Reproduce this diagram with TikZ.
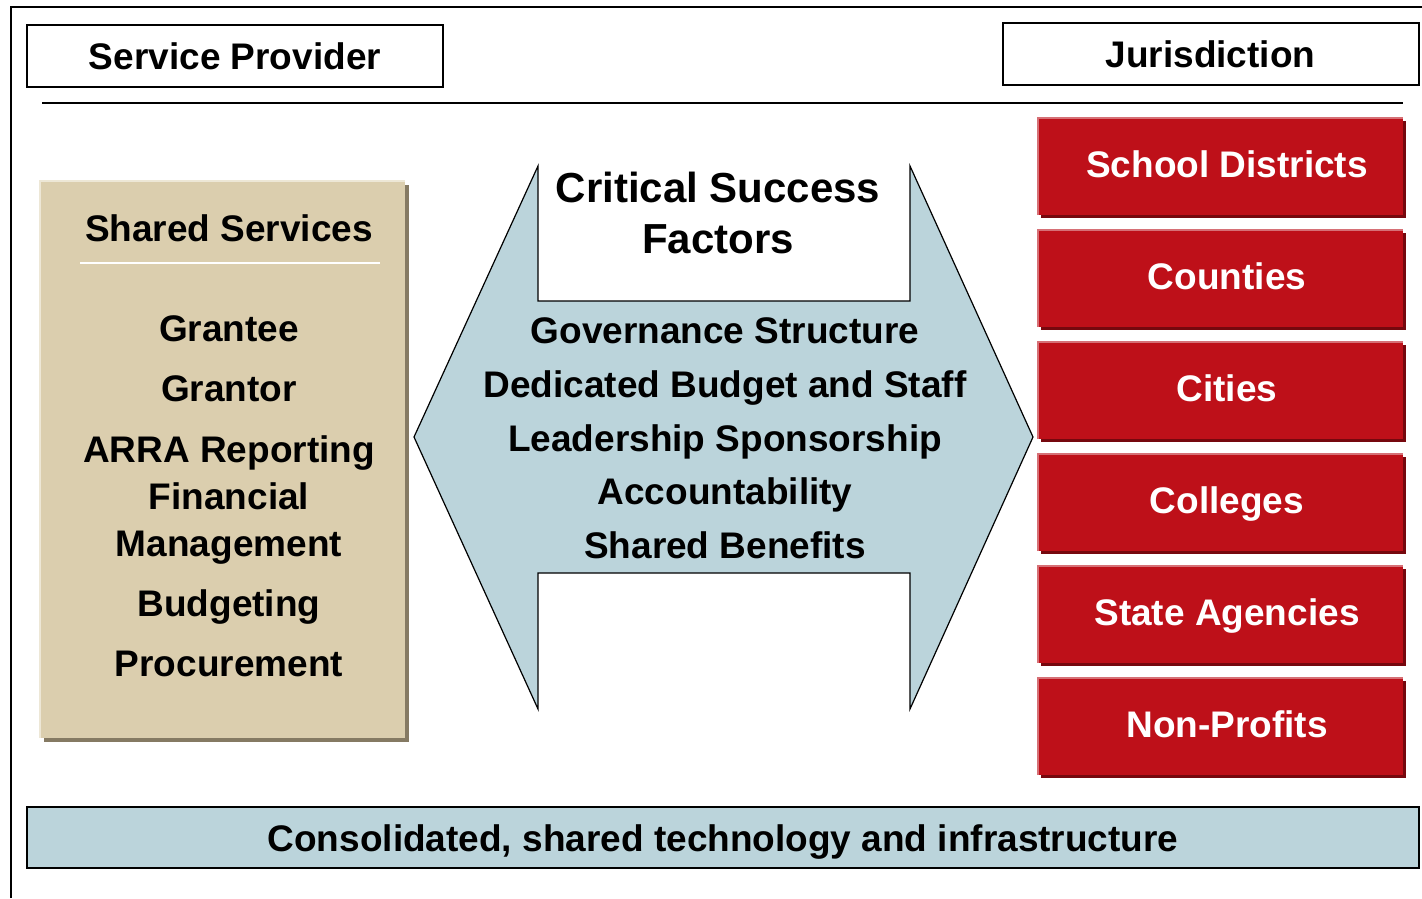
\documentclass[tikz,border=0pt]{standalone}
\usepackage{fontspec}
\setmainfont{Liberation Sans}
\usetikzlibrary{shadows}
\definecolor{tanfill}{RGB}{219,206,174}
\definecolor{tanshadow}{RGB}{133,122,99}
\definecolor{tanhi}{RGB}{237,231,214}
\definecolor{csfblue}{RGB}{187,212,219}
\definecolor{jred}{RGB}{190,16,25}
\definecolor{jredshadow}{RGB}{118,8,14}
\definecolor{jredhi}{RGB}{214,112,118}
\begin{document}
\begin{tikzpicture}[x=1pt,y=-1pt,
  bigfont/.style={font=\fontsize{37}{40}\selectfont\bfseries},
  txt/.style={bigfont, anchor=base, inner sep=0pt},
  csftitle/.style={font=\fontsize{42}{46}\selectfont\bfseries, anchor=base, inner sep=0pt},
  header/.style={bigfont, draw, line width=2pt, fill=white, minimum width=416, minimum height=62, inner sep=0pt, text height=27pt, text depth=0pt},
  redbox/.style={bigfont, fill=jred, text=white, minimum width=365, minimum height=97, inner sep=0pt, text height=21pt, text depth=0pt,
    general shadow={fill=jredshadow, shadow xshift=3pt, shadow yshift=-3pt}},
  redhi/.style={draw=jredhi, line width=2pt},
  tanbox/.style={fill=tanfill, minimum width=365, minimum height=557, inner sep=0pt,
    general shadow={fill=tanshadow, shadow xshift=4pt, shadow yshift=-4pt}},
  barbox/.style={bigfont, draw, line width=2pt, fill=csfblue, minimum width=1392, minimum height=61, inner sep=0pt, text height=27pt, text depth=0pt},
]
\useasboundingbox (0,0) rectangle (1422,898);

% outer frame
\draw[line width=1.5pt] (11,898) -- (11,7) -- (1422,7);

% headers
\node[header] (sp) at (235,56) {Service Provider};
\node[header] (jur) at (1210.5,54) {Jurisdiction};
\draw[line width=1.5pt] (42,103) -- (1403,103);

% shared services panel
\node[tanbox] (ss) at (222.5,459.5) {};
\draw[draw=tanhi, line width=2pt] (ss.south west) -- (ss.north west) -- (ss.north east);
\node[txt] (sstitle) at (229,241) {Shared Services};
\draw[white, line width=2pt] (80,263) -- (380,263);
\node[txt] (s1) at (229,341) {Grantee};
\node[txt] (s2) at (229,401) {Grantor};
\node[txt] (s3) at (229,462) {ARRA Reporting};
\node[txt] (s4) at (229,509) {Financial};
\node[txt] (s5) at (229,556) {Management};
\node[txt] (s6) at (229,616) {Budgeting};
\node[txt] (s7) at (229,676) {Procurement};

% critical success factors double arrow
\draw[fill=csfblue, line width=1.2pt, line join=miter]
  (538,166) -- (538,301) -- (910,301) -- (910,166) -- (1033,437) -- (910,709)
  -- (910,573) -- (538,573) -- (538,709) -- (414,437) -- cycle;
\node[csftitle] (c0a) at (718,202) {Critical Success};
\node[csftitle] (c0b) at (718,253) {Factors};
\node[txt] (c1) at (725,343) {Governance Structure};
\node[txt] (c2) at (725,397) {Dedicated Budget and Staff};
\node[txt] (c3) at (725,451) {Leadership Sponsorship};
\node[txt] (c4) at (725,504) {Accountability};
\node[txt] (c5) at (725,558) {Shared Benefits};

% jurisdictions
\node[redbox] (r1) at (1220.5,166.5) {\hspace*{13pt}School Districts};
\node[redbox] (r2) at (1220.5,278.5) {\hspace*{13pt}Counties};
\node[redbox] (r3) at (1220.5,390.5) {\hspace*{13pt}Cities};
\node[redbox] (r4) at (1220.5,502.5) {\hspace*{13pt}Colleges};
\node[redbox] (r5) at (1220.5,614.5) {\hspace*{13pt}State Agencies};
\node[redbox] (r6) at (1220.5,726.5) {\hspace*{13pt}Non-Profits};
\foreach \r in {r1,r2,r3,r4,r5,r6}{
  \draw[redhi] (\r.south west) -- (\r.north west) -- (\r.north east);
}

% bottom bar
\node[barbox] (bar) at (723,837.5) {Consolidated, shared technology and infrastructure};
\end{tikzpicture}
\end{document}
